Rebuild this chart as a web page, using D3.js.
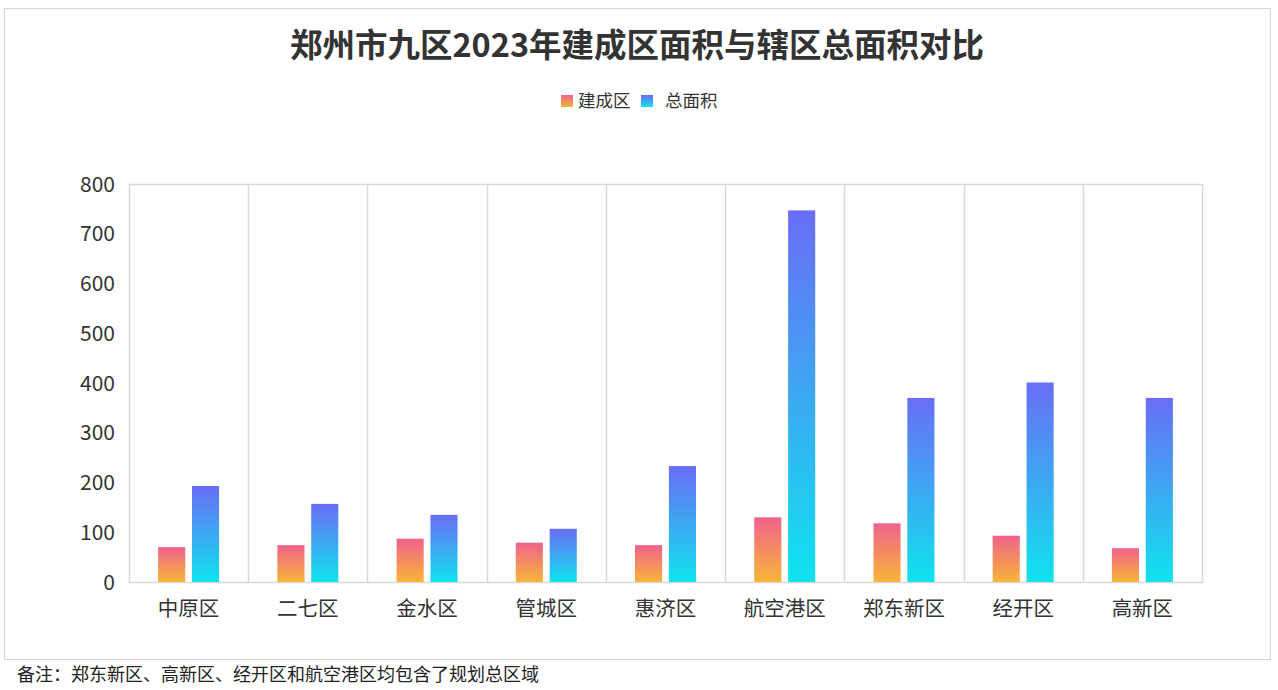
<!DOCTYPE html>
<html>
<head>
<meta charset="utf-8">
<script src="https://cdn.jsdelivr.net/npm/d3@7/dist/d3.min.js"></script>
<style>
  body { margin: 0; background: #fff; }
  text { font-family: "Noto Sans CJK SC", "Noto Sans", sans-serif; }
</style>
</head>
<body>
<div id="chart"></div>
<script>
// chart data
const districts = ["中原区", "二七区", "金水区", "管城区", "惠济区", "航空港区", "郑东新区", "经开区", "高新区"];
const builtArea = [70, 74, 87, 79, 74, 130, 118, 93, 68];
const totalArea = [193, 157, 135, 107, 233, 747, 370, 401, 370];
const seriesNames = ["建成区", "总面积"];
const yTicks = [0, 100, 200, 300, 400, 500, 600, 700, 800];
const titleText = "郑州市九区2023年建成区面积与辖区总面积对比";
const noteText = "备注：郑东新区、高新区、经开区和航空港区均包含了规划总区域";

let canvas = {
  size: { width: 1278, height: 690 },
  margin: { top: 184, bottom: 108, left: 129, right: 76 }
};

const svg = d3.select("#chart")
  .append("svg")
  .attr("width", canvas.size.width)
  .attr("height", canvas.size.height);

// gradients
const defs = svg.append("defs");
const grads = [
  { id: "gBuilt", top: "#f0628c", bottom: "#f8b538" },
  { id: "gTotal", top: "#6a6df6", bottom: "#0fe3ee" }
];
grads.forEach(g => {
  const lg = defs.append("linearGradient")
    .attr("id", g.id)
    .attr("x1", 0).attr("y1", 0).attr("x2", 0).attr("y2", 1);
  lg.append("stop").attr("offset", "0%").attr("stop-color", g.top);
  lg.append("stop").attr("offset", "100%").attr("stop-color", g.bottom);
});

// outer frame
svg.append("rect")
  .attr("x", 4.5).attr("y", 8.5)
  .attr("width", 1266).attr("height", 651)
  .attr("fill", "none")
  .attr("stroke", "#d6d6d6");

const plotW = canvas.size.width - canvas.margin.left - canvas.margin.right;
const plotH = canvas.size.height - canvas.margin.top - canvas.margin.bottom;

const x = d3.scaleBand()
  .domain(districts)
  .range([canvas.margin.left, canvas.margin.left + plotW]);

const y = d3.scaleLinear()
  .domain([0, 800])
  .range([canvas.margin.top + plotH, canvas.margin.top]);

const sub = d3.scaleBand()
  .domain(seriesNames)
  .range([0, 61])
  .paddingInner(0.2);

// plot box + category separators
svg.append("rect")
  .attr("x", canvas.margin.left + 0.5)
  .attr("y", canvas.margin.top + 0.5)
  .attr("width", plotW)
  .attr("height", plotH)
  .attr("fill", "none")
  .attr("stroke", "#d9d9d9")
  .attr("stroke-width", 1.5);

svg.append("g")
  .selectAll("line")
  .data(districts.slice(1))
  .join("line")
    .attr("x1", d => Math.round(x(d)) + 0.5)
    .attr("x2", d => Math.round(x(d)) + 0.5)
    .attr("y1", canvas.margin.top)
    .attr("y2", canvas.margin.top + plotH)
    .attr("stroke", "#d9d9d9")
    .attr("stroke-width", 1.5);

// y axis labels
svg.append("g")
  .selectAll("text")
  .data(yTicks)
  .join("text")
    .attr("x", 115)
    .attr("y", d => y(d))
    .attr("dy", "0.36em")
    .attr("text-anchor", "end")
    .attr("font-size", 21)
    .attr("fill", "#333")
    .text(d => d);

// x axis labels
svg.append("g")
  .selectAll("text")
  .data(districts)
  .join("text")
    .attr("x", d => x(d) + x.bandwidth() / 2)
    .attr("y", 609)
    .attr("dy", "0.36em")
    .attr("text-anchor", "middle")
    .attr("font-size", 20.5)
    .attr("fill", "#333")
    .text(d => d);

// bars
const rows = districts.map((d, i) => ({ name: d, values: [builtArea[i], totalArea[i]] }));
const group = svg.append("g")
  .selectAll("g")
  .data(rows)
  .join("g")
    .attr("transform", d => `translate(${x(d.name) + (x.bandwidth() - 61) / 2},0)`);

group.selectAll("rect")
  .data(d => d.values.map((v, k) => ({ key: seriesNames[k], value: v, k })))
  .join("rect")
    .attr("x", d => sub(d.key))
    .attr("width", sub.bandwidth())
    .attr("y", d => y(d.value))
    .attr("height", d => y(0) - y(d.value))
    .attr("fill", d => `url(#${grads[d.k].id})`);

// title
svg.append("text")
  .attr("x", 637)
  .attr("y", 45)
  .attr("dy", "0.36em")
  .attr("text-anchor", "middle")
  .attr("font-size", 32.5)
  .attr("font-weight", "bold")
  .attr("fill", "#333")
  .text(titleText);

// legend
const legendItems = [
  { name: seriesNames[0], x: 561, tx: 578 },
  { name: seriesNames[1], x: 641, tx: 665 }
];
const lg = svg.append("g");
lg.selectAll("rect")
  .data(legendItems)
  .join("rect")
    .attr("x", d => d.x)
    .attr("y", 95)
    .attr("width", 12)
    .attr("height", 12)
    .attr("fill", (d, i) => `url(#${grads[i].id})`);
lg.selectAll("text")
  .data(legendItems)
  .join("text")
    .attr("x", d => d.tx)
    .attr("y", 101)
    .attr("dy", "0.36em")
    .attr("font-size", 17.5)
    .attr("fill", "#333")
    .text(d => d.name);

// footnote
svg.append("text")
  .attr("x", 17)
  .attr("y", 675)
  .attr("dy", "0.36em")
  .attr("font-size", 18)
  .attr("fill", "#222")
  .text(noteText);
</script>
</body>
</html>
